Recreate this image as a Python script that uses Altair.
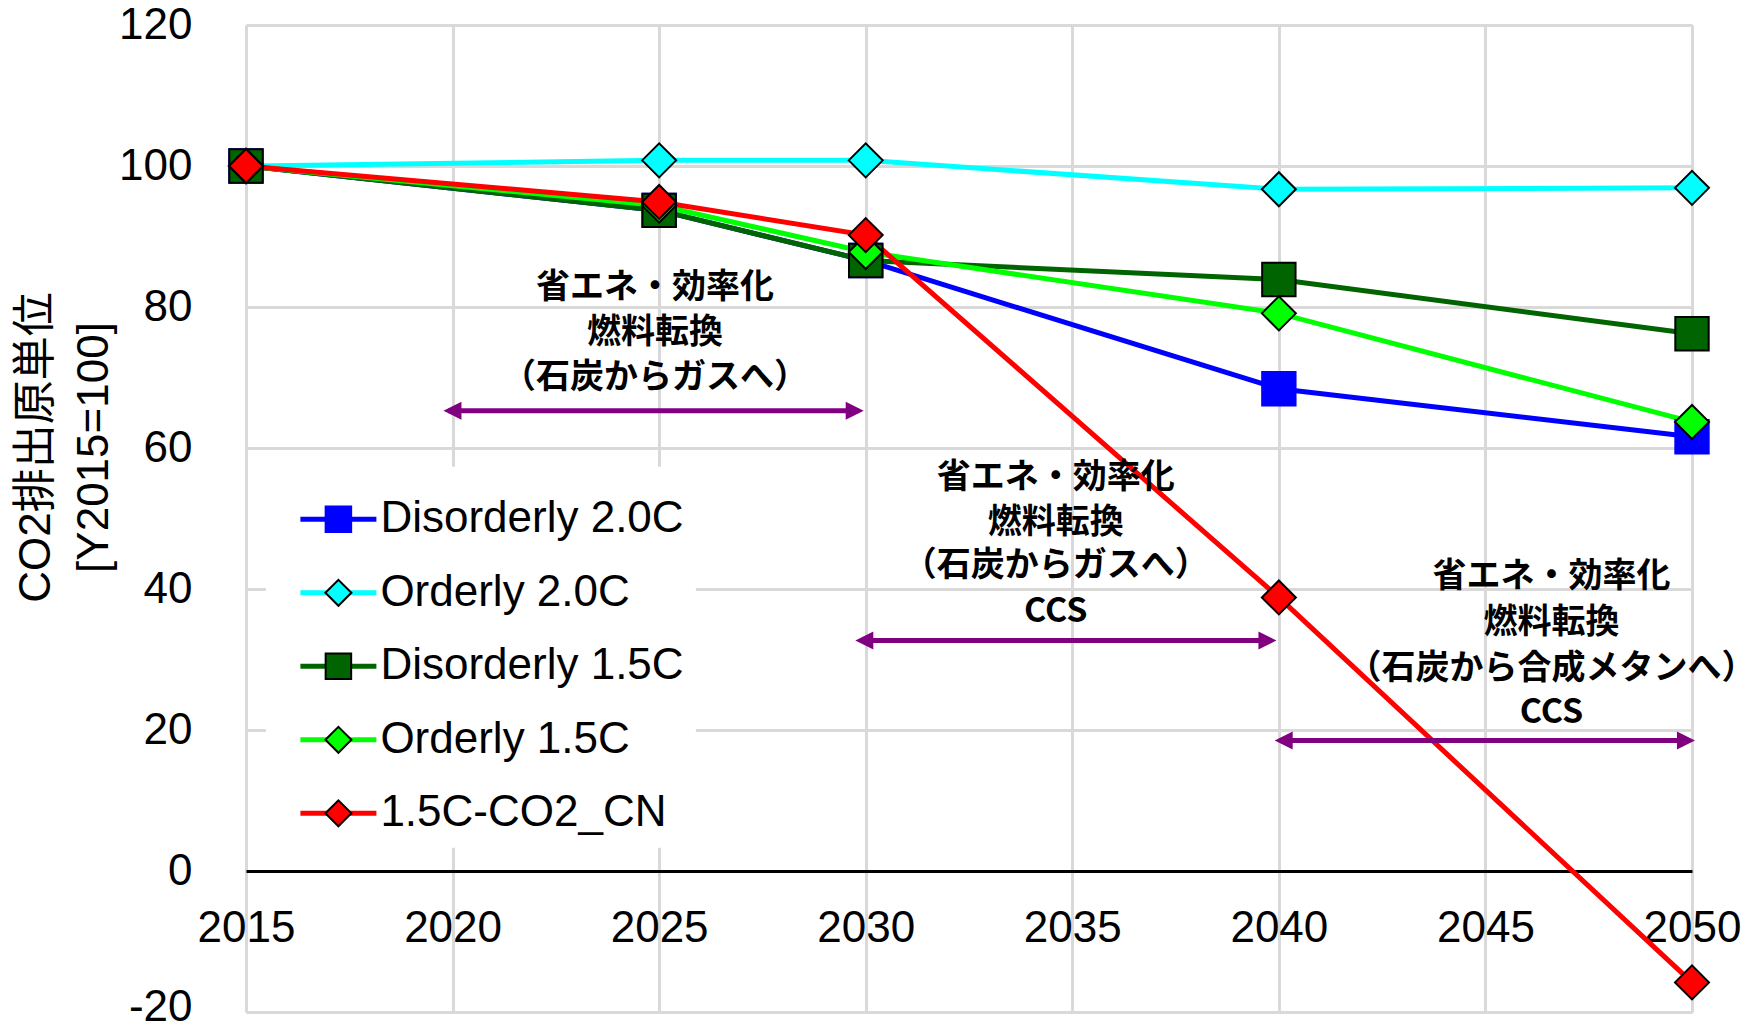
import altair as alt
import pandas as pd

# ---------------- data ----------------
years = [2015, 2025, 2030, 2040, 2050]
series = ["Disorderly 2.0C", "Orderly 2.0C", "Disorderly 1.5C", "Orderly 1.5C", "1.5C-CO2_CN"]
disorderly_20 = [100, 93.7, 86.6, 68.4, 61.6]
orderly_20 = [100, 100.8, 100.8, 96.7, 96.9]
disorderly_15 = [100, 93.7, 86.6, 83.9, 76.2]
orderly_15 = [100, 94.4, 87.8, 79.1, 63.7]
co2_cn = [100, 94.9, 90.2, 38.8, -15.8]

line_colors = ["#0000ff", "#00ffff", "#006400", "#00ff00", "#ff0000"]
edge_colors = ["#0000ff", "#000000", "#000000", "#000000", "#000000"]

x_ticks = [2015, 2020, 2025, 2030, 2035, 2040, 2045, 2050]
y_ticks = [-20, 0, 20, 40, 60, 80, 100, 120]

ann_x = [2024.9, 2024.9, 2024.9,
         2034.6, 2034.6, 2034.6, 2034.6,
         2046.6, 2046.6, 2046.6, 2046.6]
ann_y = [82.7, 76.3, 69.9,
         55.7, 49.4, 43.2, 36.7,
         41.7, 35.2, 28.7, 22.4]
ann_text = ["省エネ・効率化", "燃料転換", "（石炭からガスへ）",
            "省エネ・効率化", "燃料転換", "（石炭からガスへ）", "CCS",
            "省エネ・効率化", "燃料転換", "（石炭から合成メタンへ）", "CCS"]

arrow_from = [2019.9, 2029.87, 2040.02]
arrow_to = [2029.83, 2039.82, 2049.95]
arrow_y = [65.3, 32.7, 18.5]

# ---------------- styles ----------------
FONT = "Liberation Sans, Noto Sans CJK JP"
JFONT = "Noto Sans CJK JP"
PURPLE = "#800080"
GRID = "#d9d9d9"
SQ = "M-0.323,-0.323H0.323V0.323H-0.323Z"
DM = "M-0.329,0L0,-0.329L0.329,0L0,0.329Z"
shapes = [SQ, DM, SQ, DM, DM]
LEFT_HEAD = "M-0.556,0L1.444,-1L1.444,1Z"
RIGHT_HEAD = "M0.556,0L-1.444,-1L-1.444,1Z"

W, H = 1446, 987

# marker legend keys differ (trailing space) so Vega-Lite keeps the two legends apart;
# its labels are hidden, the line legend shows the visible labels.
marker_keys = [s + " " for s in series]

rows = []
for name, mk, vals in zip(series, marker_keys,
                          [disorderly_20, orderly_20, disorderly_15, orderly_15, co2_cn]):
    for yr, v in zip(years, vals):
        rows.append({"series": name, "marker": mk, "year": yr, "value": v})
df = pd.DataFrame(rows)

ann_df = pd.DataFrame({"x": ann_x, "y": ann_y, "t": ann_text})
arr_df = pd.DataFrame({"x1": arrow_from, "x2": arrow_to, "y": arrow_y})

xscale = alt.Scale(domain=[2015, 2050], nice=False, zero=False)
yscale = alt.Scale(domain=[-20, 120], nice=False, zero=False)

LX, LY, LP = 19.9, 441.8, 12
common_leg = dict(orient="none", legendX=LX, legendY=LY, title=None, direction="vertical",
                  labelFont=FONT, labelFontSize=44, labelColor="black", labelLimit=0,
                  padding=LP, rowPadding=10.5, symbolOffset=20, labelOffset=1.5)

line_legend = alt.Legend(symbolType="stroke", symbolSize=5776, symbolStrokeWidth=5,
                         fillColor="white", labelExpr="datum.label + '\u00a0\u00a0'", **common_leg)
marker_legend = alt.Legend(symbolSize=6241, symbolStrokeWidth=2, labelOpacity=0, **common_leg)

x_axis = alt.Axis(values=x_ticks, labelExpr="datum.value", title=None, grid=True,
                  gridColor=GRID, gridWidth=3, domain=True, domainColor="black", domainWidth=3,
                  ticks=False, tickSize=0, labelFont=FONT, labelFontSize=44, labelColor="black",
                  labelPadding=35, labelFlush=False, labelOverlap=False, offset=-141)
y_axis = alt.Axis(values=y_ticks, labelExpr="datum.value", title=["CO2排出原単位", "[Y2015=100]"],
                  grid=True, gridColor=GRID, gridWidth=3, domain=False, ticks=False, tickSize=0,
                  labelFont=FONT, labelFontSize=44, labelColor="black", labelPadding=54,
                  labelOffset={"condition": {"test": "datum.value == -20", "value": -5}, "value": 0},
                  labelFlush=False, labelOverlap=False,
                  titleFont=FONT, titleFontSize=44, titleFontWeight="normal", titleColor="black",
                  titleAngle=270, titleAlign="center", titleBaseline="middle",
                  titleX=-210, titleY=422, titleLineHeight=58)

lines = alt.Chart(df).mark_line(strokeWidth=5).encode(
    x=alt.X("year:Q", scale=xscale, axis=x_axis),
    y=alt.Y("value:Q", scale=yscale, axis=y_axis),
    color=alt.Color("series:N", scale=alt.Scale(domain=series, range=line_colors),
                    legend=line_legend, sort=series),
)

points = alt.Chart(df).mark_point(filled=True, size=10675, strokeWidth=2, opacity=1).encode(
    x=alt.X("year:Q", scale=xscale),
    y=alt.Y("value:Q", scale=yscale),
    fill=alt.Fill("marker:N", scale=alt.Scale(domain=marker_keys, range=line_colors),
                  legend=marker_legend, sort=marker_keys),
    stroke=alt.Stroke("marker:N", scale=alt.Scale(domain=marker_keys, range=edge_colors),
                      legend=marker_legend, sort=marker_keys),
    shape=alt.Shape("marker:N", scale=alt.Scale(domain=marker_keys, range=shapes),
                    legend=marker_legend, sort=marker_keys),
)

rules = alt.Chart(arr_df).mark_rule(strokeWidth=5, color=PURPLE).encode(
    x=alt.X("x1:Q", scale=xscale), x2="x2:Q", y=alt.Y("y:Q", scale=yscale))
lheads = alt.Chart(arr_df).mark_point(shape=LEFT_HEAD, size=324, filled=True, color=PURPLE,
                                      opacity=1, strokeWidth=0).encode(
    x=alt.X("x1:Q", scale=xscale), y=alt.Y("y:Q", scale=yscale))
rheads = alt.Chart(arr_df).mark_point(shape=RIGHT_HEAD, size=324, filled=True, color=PURPLE,
                                      opacity=1, strokeWidth=0).encode(
    x=alt.X("x2:Q", scale=xscale), y=alt.Y("y:Q", scale=yscale))

texts = alt.Chart(ann_df).mark_text(font=JFONT, fontSize=34, fontWeight="bold", color="black",
                                    align="center", baseline="middle").encode(
    x=alt.X("x:Q", scale=xscale), y=alt.Y("y:Q", scale=yscale), text="t:N")

chart = alt.layer(lines, points, rules, lheads, rheads, texts).properties(
    width=W, height=H,
    padding={"left": 238, "top": 17, "right": 50, "bottom": 11},
    autosize=alt.AutoSizeParams(type="none"),
).configure_view(stroke="black", strokeWidth=3).configure(background="white")

chart.save("out.html", embed_options={"renderer": "svg", "actions": False})
